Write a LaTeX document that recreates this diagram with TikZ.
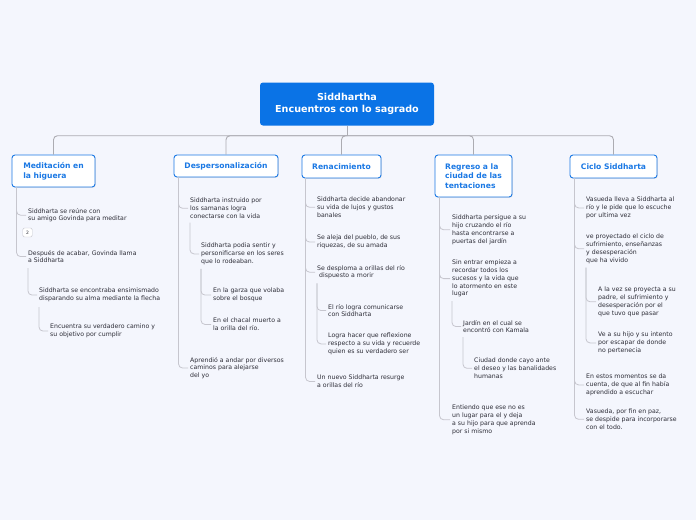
\documentclass[tikz,border=0pt]{standalone}
\usepackage{fontspec}
\setmainfont{DejaVu Sans}
\usetikzlibrary{calc,positioning,shadows}

\definecolor{bgcol}{RGB}{244,246,253}
\definecolor{rootblue}{RGB}{10,115,230}
\definecolor{topicblue}{RGB}{26,120,228}
\definecolor{trunkgray}{RGB}{172,172,178}
\definecolor{twiggray}{RGB}{198,198,206}
\definecolor{leaftext}{RGB}{45,45,55}

\begin{document}
\begin{tikzpicture}[x=1pt, y=-1pt,
    root/.style={fill=rootblue, text=white, rounded corners=3pt,
                 font=\fontsize{9.6}{11.8}\selectfont\bfseries, align=center,
                 minimum width=174pt, minimum height=43pt},
    topic/.style={draw=topicblue, fill=white, line width=0.9pt, rounded corners=3pt,
                  text=topicblue, font=\fontsize{7.6}{9.6}\selectfont\bfseries, align=left,
                  drop shadow={opacity=0.18, shadow xshift=0.8pt, shadow yshift=-0.8pt}},
    leaf/.style={anchor=north west, inner sep=0pt, align=left, text=leaftext,
                 font=\fontsize{6.2}{7.7}\selectfont},
    badge/.style={draw=twiggray, fill=white, rounded corners=1.5pt, text=leaftext,
                  font=\fontsize{4.5}{5}\selectfont, minimum width=9.5pt, minimum height=9pt,
                  inner sep=0pt},
    trunk/.style={draw=trunkgray, line width=0.9pt, rounded corners=4pt},
    twig/.style={draw=twiggray, line width=0.8pt, rounded corners=4pt}]

\useasboundingbox[fill=bgcol] (0,0) rectangle (696,520);

% central topic and main branches
\node[root] (root) at (347,104) {Siddhartha\\Encuentros con lo sagrado};
\coordinate (hub) at ($(root.south)+(0,10)$);

\node[topic, minimum width=83pt, minimum height=32pt]  (med) at (53.5,171)  {Meditación en\\la higuera};
\node[topic, minimum width=104pt, minimum height=22pt] (des) at (226,166)   {Despersonalización};
\node[topic, minimum width=79pt, minimum height=23pt]  (ren) at (341.5,166.5) {Renacimiento};
\node[topic, minimum width=77pt, minimum height=42pt]  (reg) at (473.5,176) {Regreso a la\\ciudad de las\\tentaciones};
\node[topic, minimum width=87pt, minimum height=23pt]  (cic) at (613.5,166.5) {Ciclo Siddharta};

\draw[trunk] (root.south) -- (hub);
\foreach \t in {med,des,ren,reg,cic}
  \draw[trunk] (hub) -| (\t.north);

% Meditacion en la higuera
\node[leaf] (med1) at (28,208) {Siddharta se reúne con\\su amigo Govinda para meditar};
\node[badge] (medn) at (27.5,232.5) {2};
\node[leaf] (med2) at (28,250) {Después de acabar, Govinda llama\\a Siddharta};
\node[leaf] (med3) at (39,288) {Siddharta se encontraba ensimismado\\disparando su alma mediante la flecha};
\node[leaf] (med4) at (50,324) {Encuentra su verdadero camino y\\su objetivo por cumplir};

\foreach \c in {med1,med2}
  \draw[twig] ($(med.south west)+(5,0)$) |- ([xshift=-2pt]\c.west);
\draw[twig] ($(med2.south west)+(0,5)$) |- ([xshift=-2pt]med3.west);
\draw[twig] ($(med3.south west)+(0,5)$) |- ([xshift=-2pt]med4.west);

% Despersonalizacion
\node[leaf] (des1) at (190,198) {Siddharta instruido por\\los samanas logra\\conectarse con la vida};
\node[leaf] (des2) at (201,243) {Siddharta podia sentir y\\personificarse en los seres\\que lo rodeaban.};
\node[leaf] (des3) at (213,288) {En la garza que volaba\\sobre el bosque};
\node[leaf] (des4) at (213,318) {En el chacal muerto a\\la orilla del río.};
\node[leaf] (des5) at (190,357) {Aprendió a andar por diversos\\caminos para alejarse\\del yo};

\foreach \c in {des1,des5}
  \draw[twig] ($(des.south west)+(5,0)$) |- ([xshift=-2pt]\c.west);
\draw[twig] ($(des1.south west)+(0,4)$) |- ([xshift=-2pt]des2.west);
\foreach \c in {des3,des4}
  \draw[twig] ($(des2.south west)+(0,4)$) |- ([xshift=-2pt]\c.west);

% Renacimiento
\node[leaf] (ren1) at (317,197) {Siddharta decide abandonar\\su vida de lujos y gustos\\banales};
\node[leaf] (ren2) at (317,235) {Se aleja del pueblo, de sus\\riquezas, de su amada};
\node[leaf] (ren3) at (317,265) {Se desploma a orillas del río\\\hspace*{2pt}dispuesto a morir};
\node[leaf] (ren4) at (328,304) {El río logra comunicarse\\con Siddharta};
\node[leaf] (ren5) at (328,333) {Logra hacer que reflexione\\respecto a su vida y recuerde\\quien es su verdadero ser};
\node[leaf] (ren6) at (317,375) {Un nuevo Siddharta resurge\\a orillas del río};

\foreach \c in {ren1,ren2,ren3,ren6}
  \draw[twig] ($(ren.south west)+(4,0)$) |- ([xshift=-2pt]\c.west);
\foreach \c in {ren4,ren5}
  \draw[twig] ($(ren3.south west)+(0,4)$) |- ([xshift=-2pt]\c.west);

% Regreso a la ciudad de las tentaciones
\node[leaf] (reg1) at (452,215) {Siddharta persigue a su\\hijo cruzando el río\\hasta encontrarse a\\puertas del jardín};
\node[leaf] (reg2) at (452,260) {Sin entrar empieza a\\recordar todos los\\sucesos y la vida que\\lo atormento en este\\lugar};
\node[leaf] (reg3) at (463,320) {Jardín en el cual se\\encontró con Kamala};
\node[leaf] (reg4) at (474,358) {Ciudad donde cayo ante\\el deseo y las banalidades\\humanas};
\node[leaf] (reg5) at (452,405) {Entiendo que ese no es\\un lugar para el y deja\\a su hijo para que aprenda\\por si mismo};

\foreach \c in {reg1,reg2,reg5}
  \draw[twig] ($(reg.south west)+(5,0)$) |- ([xshift=-2pt]\c.west);
\draw[twig] ($(reg2.south west)+(0,4)$) |- ([xshift=-2pt]reg3.west);
\draw[twig] ($(reg3.south west)+(0,4)$) |- ([xshift=-2pt]reg4.west);

% Ciclo Siddharta
\node[leaf] (cic1) at (586,197) {Vasueda lleva a Siddharta al\\río y le pide que lo escuche\\por ultima vez};
\node[leaf] (cic2) at (586,234) {ve proyectado el ciclo de\\sufrimiento, enseñanzas\\y desesperación\\que ha vivido};
\node[leaf] (cic3) at (598,287) {A la vez se proyecta a su\\padre, el sufrimiento y\\desesperación por el\\que tuvo que pasar};
\node[leaf] (cic4) at (598,332) {Ve a su hijo y su intento\\por escapar de donde\\no pertenecia};
\node[leaf] (cic5) at (586,374) {En estos momentos se da\\cuenta, de que al fin había\\aprendido a escuchar};
\node[leaf] (cic6) at (586,409) {Vasueda, por fin en paz,\\se despide para incorporarse\\con el todo.};

\foreach \c in {cic1,cic2,cic5,cic6}
  \draw[twig] ($(cic.south west)+(5,0)$) |- ([xshift=-2pt]\c.west);
\foreach \c in {cic3,cic4}
  \draw[twig] ($(cic2.south west)+(0,4)$) |- ([xshift=-2pt]\c.west);

\end{tikzpicture}
\end{document}
